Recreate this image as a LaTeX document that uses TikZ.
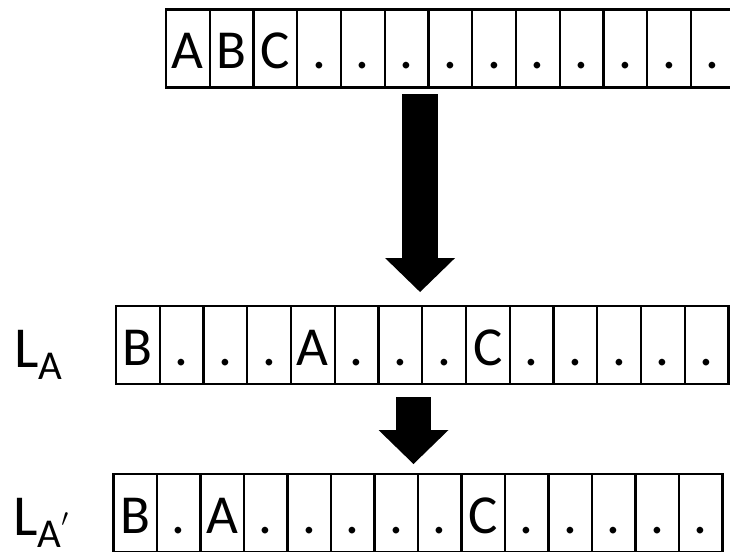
\documentclass[tikz,border=0pt]{standalone}
\usepackage{fontspec}
\setmainfont{Carlito}
\usetikzlibrary{positioning,arrows.meta}
\begin{document}
\begin{tikzpicture}[x=1pt,y=1pt,line width=2.4pt,
        cell/.style={rectangle,draw,outer sep=0pt,inner sep=0pt,minimum width=#1,minimum height=78pt,
            text height=40pt,text depth=0pt,font=\fontsize{55}{55}\selectfont},
        cell/.default=43.75pt,
        rowlabel/.style={anchor=base west,inner sep=0pt,font=\fontsize{58}{58}\selectfont},
        big arrow/.style={line width=#1,-{Triangle[width=70pt,length=34pt,line width=0pt]}}]
    \useasboundingbox (0,0) rectangle (730,-551);

    % input
    \node[cell] (t1) at (187.9,-48.5) {A};
    \foreach \c [count=\i from 2] in {B,C,.,.,.,.,.,.,.,.,.,.}
        {\pgfmathtruncatemacro\j{\i-1}
         \node[cell,right=0pt of t\j] (t\i) {\c};}

    % L_A
    \node[cell] (m1) at (137.9,-345) {B};
    \foreach \c [count=\i from 2] in {.,.,.,A,.,.,.,C,.,.,.,.,.}
        {\pgfmathtruncatemacro\j{\i-1}
         \node[cell,right=0pt of m\j] (m\i) {\c};}

    % L_A'
    \node[cell=43.5pt] (b1) at (135.25,-513) {B};
    \foreach \c [count=\i from 2] in {.,A,.,.,.,.,.,C,.,.,.,.,.}
        {\pgfmathtruncatemacro\j{\i-1}
         \node[cell=43.5pt,right=0pt of b\j] (b\i) {\c};}

    \node[rowlabel] (la) at ([xshift=-103pt,yshift=-22pt]m1.west) {L\raisebox{-12pt}{\fontsize{41}{41}\selectfont A}};
    \node[rowlabel] (lap) at ([xshift=-101.5pt,yshift=-22pt]b1.west) {L\raisebox{-12pt}{\fontsize{41}{41}\selectfont A}\raisebox{9pt}{\fontsize{50}{50}\selectfont$\prime$}};

    \draw[big arrow=36pt,shorten <=6.5pt,shorten >=14pt] ([xshift=13.4pt]t6.south) -- ([xshift=13.4pt]t6.south |- m7.north);
    \draw[big arrow=35pt,shorten <=13pt,shorten >=10pt] ([xshift=13.1pt]m7.south) -- ([xshift=13.1pt]m7.south |- b7.north);
\end{tikzpicture}
\end{document}
